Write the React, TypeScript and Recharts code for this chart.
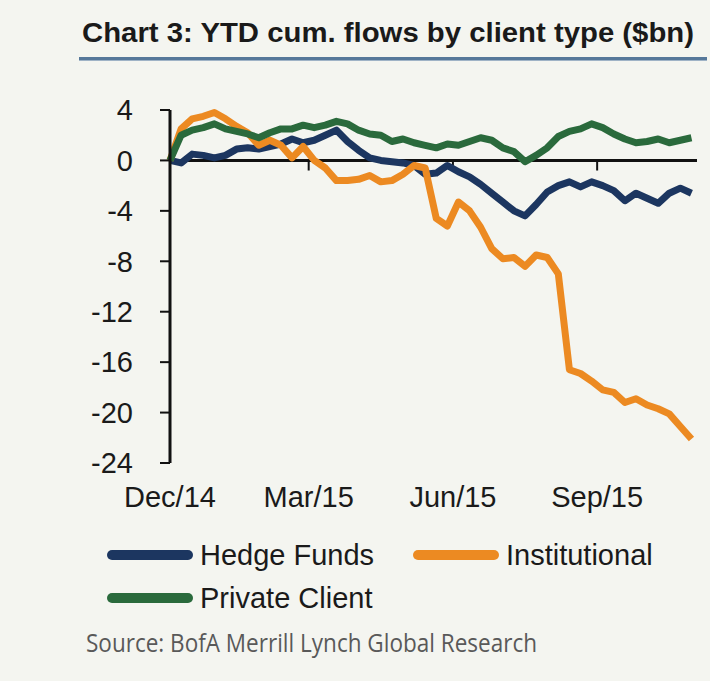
import React from 'react';
import { LineChart, Line, XAxis, YAxis, ReferenceLine, Legend } from 'recharts';

// weekly cumulative flows, $bn (week 0 = end Dec/14)
const HEDGE_FUNDS = [
  0, -0.2, 0.5, 0.4, 0.2, 0.4, 0.9, 1.0, 0.9, 1.1, 1.3, 1.7,
  1.4, 1.6, 2.0, 2.4, 1.5, 0.8, 0.2, 0.0, -0.1, -0.2, -0.4, -1.1,
  -1.0, -0.4, -0.9, -1.3, -1.9, -2.6, -3.3, -4.0, -4.4, -3.5, -2.5, -2.0,
  -1.7, -2.1, -1.7, -2.0, -2.4, -3.2, -2.6, -3.0, -3.4, -2.6, -2.2, -2.6,
];
const INSTITUTIONAL = [
  0, 2.5, 3.3, 3.5, 3.8, 3.3, 2.7, 2.2, 1.2, 1.6, 1.2, 0.2,
  1.1, 0.0, -0.6, -1.6, -1.6, -1.5, -1.2, -1.7, -1.6, -1.1, -0.4, -0.6,
  -4.6, -5.2, -3.3, -4.0, -5.3, -7.0, -7.8, -7.7, -8.4, -7.5, -7.7, -9.0,
  -16.6, -16.9, -17.5, -18.2, -18.4, -19.2, -18.9, -19.4, -19.7, -20.1, -21.1, -22.1,
];
const PRIVATE_CLIENT = [
  0, 2.0, 2.4, 2.6, 2.9, 2.5, 2.3, 2.1, 1.8, 2.2, 2.5, 2.5,
  2.8, 2.6, 2.8, 3.1, 2.9, 2.4, 2.1, 2.0, 1.5, 1.7, 1.4, 1.2,
  1.0, 1.3, 1.2, 1.5, 1.8, 1.6, 1.0, 0.7, -0.1, 0.4, 1.0, 1.9,
  2.3, 2.5, 2.9, 2.6, 2.1, 1.7, 1.4, 1.5, 1.7, 1.4, 1.6, 1.8,
];

const TICK_WEEKS = [0, 12.5, 25.5, 38.5];
const TICK_LABELS = ['Dec/14', 'Mar/15', 'Jun/15', 'Sep/15'];
const Y_TICKS = [4, 0, -4, -8, -12, -16, -20, -24];

const SERIES = [
  { key: 'hedge', name: 'Hedge Funds', color: '#1c3660' },
  { key: 'inst', name: 'Institutional', color: '#ec8a22' },
  { key: 'priv', name: 'Private Client', color: '#2a6a3c' },
];

const data = HEDGE_FUNDS.map((v, i) => ({
  week: i,
  hedge: v,
  inst: INSTITUTIONAL[i],
  priv: PRIVATE_CLIENT[i],
}));

const FONT = '"Liberation Sans", Arial, sans-serif';
const BG = '#f4f5f0';

const LegendContent = (props: any) => {
  const items = props.payload ?? [];
  return (
    <div style={{ position: 'relative', width: 600, height: 90, fontFamily: FONT, fontSize: 29, color: '#1a1a1a' }}>
      {items.map((p: any, i: number) => (
        <div
          key={p.value}
          style={{
            position: 'absolute',
            left: i === 1 ? 306 : 0,
            top: i === 2 ? 43 : 0,
            height: 40,
            display: 'flex',
            alignItems: 'center',
            whiteSpace: 'nowrap',
          }}
        >
          <span style={{ display: 'inline-block', width: 86, height: 10, borderRadius: 5, background: p.color }} />
          <span style={{ marginLeft: 7, lineHeight: '40px' }}>{p.value}</span>
        </div>
      ))}
    </div>
  );
};

export default function App() {
  return (
    <div style={{ position: 'absolute', left: 0, top: 0, width: 710, height: 681, background: BG, overflow: 'hidden' }}>
      <LineChart
        width={710}
        height={681}
        data={data}
        margin={{ top: 110, right: 13, bottom: 158, left: 0 }}
      >
        <XAxis
          dataKey="week"
          type="number"
          domain={[0, 47.5]}
          ticks={TICK_WEEKS}
          interval={0}
          tickFormatter={(v: number) => TICK_LABELS[TICK_WEEKS.indexOf(v)]}
          axisLine={false}
          tickLine={false}
          tickSize={0}
          tickMargin={23}
          height={60}
          tick={{ fill: '#1a1a1a', fontSize: 29, fontFamily: FONT }}
        />
        <YAxis
          domain={[-24, 4]}
          ticks={Y_TICKS}
          interval={0}
          width={170}
          tickSize={10}
          tickMargin={27}
          axisLine={{ stroke: '#111', strokeWidth: 3 }}
          tickLine={{ stroke: '#111', strokeWidth: 2 }}
          tick={{ fill: '#1a1a1a', fontSize: 29, fontFamily: FONT }}
        />
        <ReferenceLine y={0} stroke="#111" strokeWidth={3} />
        {TICK_WEEKS.slice(1).map((w) => (
          <ReferenceLine
            key={w}
            segment={[{ x: w, y: 0 }, { x: w, y: -0.8 }]}
            stroke="#111"
            strokeWidth={2}
          />
        ))}
        {SERIES.map((s) => (
          <Line
            key={s.key}
            type="linear"
            dataKey={s.key}
            name={s.name}
            stroke={s.color}
            strokeWidth={7}
            strokeLinejoin="round"
            dot={false}
            isAnimationActive={false}
          />
        ))}
        <Legend
          layout="horizontal"
          verticalAlign="middle"
          align="center"
          wrapperStyle={{ left: 107, top: 535, width: 600, height: 90 }}
          content={<LegendContent />}
        />
      </LineChart>
      <svg width={710} height={681} style={{ position: 'absolute', left: 0, top: 0, pointerEvents: 'none' }}>
        <text
          x={82}
          y={42}
          textLength={612}
          lengthAdjust="spacingAndGlyphs"
          fontFamily='"Liberation Sans Narrow", "Liberation Sans", Arial, sans-serif'
          fontWeight="bold"
          fontSize={28}
          fill="#1a1a1a"
        >
          Chart 3: YTD cum. flows by client type ($bn)
        </text>
        <rect x={79} y={57} width={628} height={3} fill="#56789a" />
        <rect x={79} y={60} width={628} height={1} fill="#9fb3c6" />
        <text
          x={86}
          y={652}
          textLength={451}
          lengthAdjust="spacingAndGlyphs"
          fontFamily='"Open Sans", "Noto Sans", sans-serif'
          fontSize={25}
          fill="#595959"
        >
          Source: BofA Merrill Lynch Global Research
        </text>
      </svg>
    </div>
  );
}
